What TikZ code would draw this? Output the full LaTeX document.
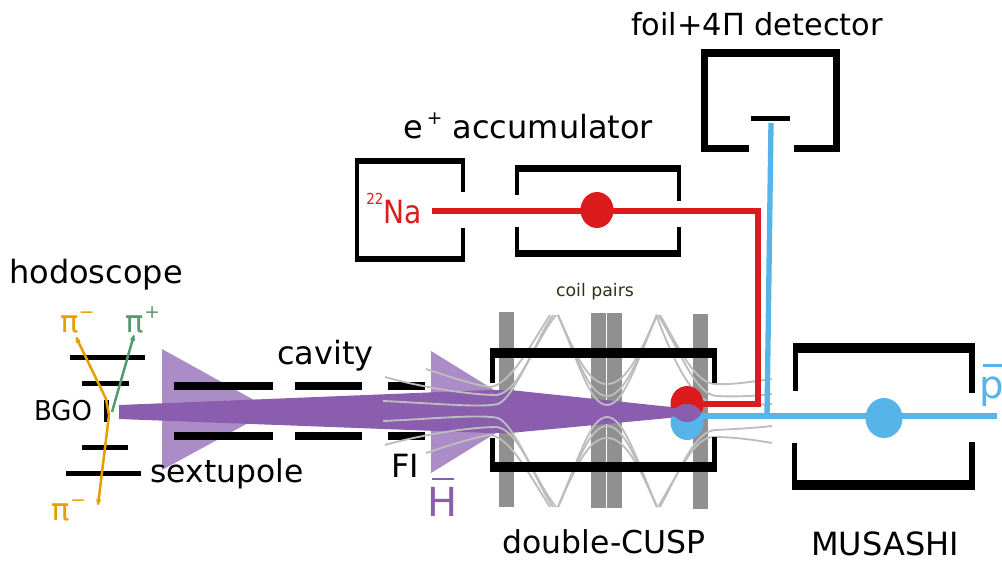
\documentclass[tikz,border=0pt]{standalone}
\usepackage{fontspec}
\setmainfont{DejaVu Sans}
\usepackage{xcolor}
\usetikzlibrary{arrows.meta,shapes.geometric}
\definecolor{beampurple}{HTML}{8A5DAE}
\definecolor{lightpurple}{HTML}{AC8CC6}
\definecolor{coilgray}{HTML}{909090}
\definecolor{fieldgray}{HTML}{BDBDBD}
\definecolor{posred}{HTML}{DC1C1C}
\definecolor{pbarblue}{HTML}{56B4E9}
\definecolor{piorange}{HTML}{E69F00}
\definecolor{pigreen}{HTML}{519C6E}
\definecolor{coiltext}{HTML}{2B3312}
\newcommand{\upmark}[1]{\raisebox{10.5pt}{\fontsize{14}{14}\selectfont #1}}
\newcommand{\barred}[4]{\vbox{\offinterlineskip\moveright #1\hbox{\vrule width #2 height 2pt}\kern #3\hbox{#4}}}
\begin{document}
\begin{tikzpicture}[x=0.75pt,y=-0.75pt,>={Stealth[round,length=7.5pt,width=5pt]},
  lbl/.style={anchor=base,inner sep=0pt,font=\fontsize{24}{28}\selectfont},
  pilbl/.style={lbl,font=\fontsize{23}{28}\selectfont},
  field/.style={draw=fieldgray,line width=1.4pt},
  beamred/.style={draw=posred,line width=4pt},
  beamblue/.style={draw=pbarblue,line width=4pt},
  cloud/.style={ellipse,inner sep=0pt,draw=none}]
\useasboundingbox (0,0) rectangle (1002,560);
% coils
\foreach \xa/\ya/\xb/\yb in {499/312/514/507, 591/313/606/508, 607/313/622/508, 693/314/708/509}{
  \fill[coilgray] (\xa,\ya) rectangle (\xb,\yb);
}
% sextupole and FI fields
\fill[lightpurple] (162,349) -- (272,410) -- (162,470) -- cycle;
\fill[lightpurple] (431,351) -- (530,412) -- (431,473) -- cycle;
% hodoscope, cavity, FI
\foreach \xa/\ya/\xb/\yb in {70/354.5/145/359.5, 82/380.5/129/385.5, 82/444.5/128/449.5, 66/470.5/141/475.5, 104/400/109/422,
  174/382/273/390, 295/382/362/390, 388/382/425/390, 174/432/273/440, 295/432/362/440, 388/432/425/440}{
  \fill[black] (\xa,\ya) rectangle (\xb,\yb);
}
% antihydrogen beam
\fill[beampurple] (119,405) -- (490,390) -- (510,390) -- (690,409) -- (690,416) -- (510,433) -- (490,433) -- (119,419) -- cycle;
% field lines
\foreach \s in {1,-1}{
  \begin{scope}[shift={(0,411)},yscale=\s]
    \draw[field] (385,-34) .. controls (420,-24) and (470,-16) .. (497,-16) .. controls (520,-20) and (535,-70) .. (553,-96);
    \draw[field] (426,-42) .. controls (450,-34) and (475,-26) .. (490,-24) .. controls (510,-26) and (530,-65) .. (550,-96);
    \draw[field] (383,-10) .. controls (430,-8) and (480,-3) .. (498,-7) .. controls (515,-14) and (535,-70) .. (556,-96);
    \foreach \d in {27,15,6}{
      \draw[field] (558,-96) .. controls (578,-50) and (590,-\d) .. (607,-\d) .. controls (624,-\d) and (637,-50) .. (657,-96);
    }
  \end{scope}
}
\draw[field] (660,315) .. controls (680,350) and (695,383) .. (715,384) .. controls (735,385) and (755,381) .. (772,379);
\draw[field] (658,315) .. controls (680,350) and (695,395) .. (717,396) .. controls (735,397) and (755,396) .. (772,394);
\draw[field] (656,315) .. controls (670,350) and (690,403) .. (717,404) .. controls (735,405) and (755,405) .. (772,404);
\draw[field] (660,507) .. controls (680,470) and (695,431) .. (715,430) .. controls (735,429) and (755,428) .. (772,426);
\draw[field] (658,507) .. controls (680,470) and (695,437) .. (713,437) .. controls (735,437) and (755,440) .. (772,443);
% pions
\coordinate (bgoup) at (106,399);
\coordinate (bgomid) at (109,415);
\coordinate (pimintop) at (76,337);
\coordinate (piminbot) at (98,505);
\coordinate (bgoright) at (112,412);
\coordinate (piplustop) at (134,335);
\draw[<->,piorange,line width=1.9pt] (pimintop) -- (bgoup) -- (bgomid) -- (piminbot);
\draw[->,pigreen,line width=1.9pt] (bgoright) -- (piplustop);
% source, accumulator, detector, double-CUSP, MUSASHI walls
\foreach \xa/\ya/\xb/\yb in {355/158/465/164, 355/158/359/262, 355/256/465/262, 461/158/465/192, 461/228/465/262,
  515/165/681/172, 515/165/519/195, 677/165/681/201, 515/250/681/257, 515/227/519/257, 677/227/681/257,
  701/49/840/57, 701/49/708/152, 833/49/840/152, 701/145/749/152, 794/145/840/152, 751/115.5/790/120.5,
  490/348/717/358, 490/348/495/383, 712/348/717/383, 490/462/717/472, 490/438/495/472, 712/437/717/472,
  793/343/975/353, 793/348/798/391, 969/343/975/393, 792/480/975/490, 792/443/797/490, 969/442/975/490}{
  \fill[black] (\xa,\ya) rectangle (\xb,\yb);
}
% positron and antiproton clouds
\fill[posred] (687,404) ellipse (16.5 and 18);
\fill[pbarblue] (687,422) ellipse (16.5 and 18);
\begin{scope}
  \clip (687,404) ellipse (16.5 and 18);
  \fill[beampurple] (687,422) ellipse (16.5 and 18);
\end{scope}
\fill[beampurple] (655,406) -- (690,410) -- (690,415) -- (655,418) -- cycle;
% beams
\coordinate (naout) at (432,211);
\coordinate (redcorner) at (758,211);
\coordinate (redlow) at (758,404);
\coordinate (redend) at (702,404);
\coordinate (blueend) at (702,416);
\coordinate (blueout) at (997,416);
\coordinate (bluejoin) at (767,416);
\coordinate (foilin) at (771,123);
\draw[beamred,line join=miter] (naout) -- (redcorner) -- (redlow) -- (redend);
\draw[beamblue] (blueend) -- (blueout);
\draw[beamblue] (bluejoin) -- (foilin);
\node[cloud,fill=posred,minimum width=24.75pt,minimum height=27pt] (accdot) at (597,210) {};
\node[cloud,fill=pbarblue,minimum width=27.75pt,minimum height=30pt] (musdot) at (884,418) {};
% labels
\node[lbl] (hodolbl) at (96,283) {hodoscope};
\node[pilbl,text=piorange] (pimtop) at (77.5,332) {π\upmark{−}};
\node[pilbl,text=pigreen] (piptop) at (143,332) {π\upmark{+}};
\node[pilbl,text=piorange] (pimbot) at (69,520) {π\upmark{−}};
\node[lbl,font=\fontsize{20.5}{24}\selectfont,xscale=.95,transform shape] (bgolbl) at (63,420) {BGO};
\node[lbl,font=\fontsize{23.5}{28}\selectfont] (sextlbl) at (227,482) {sextupole};
\node[lbl] (cavlbl) at (325.5,364) {cavity};
\node[lbl] (filbl) at (405,477) {FI};
\node[lbl,text=beampurple,font=\fontsize{30}{34}\selectfont] (hbarlbl) at (443,516) {\barred{2.9pt}{16.5pt}{5pt}{H}};
\node[lbl,font=\fontsize{13}{16}\selectfont,text=coiltext] (coillbl) at (595,296) {coil pairs};
\node[lbl,font=\fontsize{23.6}{28}\selectfont] (cusplbl) at (604,553) {double-CUSP};
\node[lbl] (muslbl) at (885,555) {MUSASHI};
\node[lbl,anchor=base west,text=pbarblue,font=\fontsize{29}{34}\selectfont] (pbarlbl) at (979.5,398) {\barred{2.6pt}{16pt}{7pt}{p}};
\node[lbl,text=posred,font=\fontsize{24}{28}\selectfont,xscale=.88,transform shape] (nalbl) at (394,223) {\raisebox{14pt}{\fontsize{11.4}{11}\selectfont 22}Na};
\node[lbl] (acclbl) at (528.5,138) {e\kern2.5pt\upmark{+} accumulator};
\node[lbl,font=\fontsize{22.8}{28}\selectfont] (detlbl) at (757,36) {foil+4Π detector};
\end{tikzpicture}
\end{document}
